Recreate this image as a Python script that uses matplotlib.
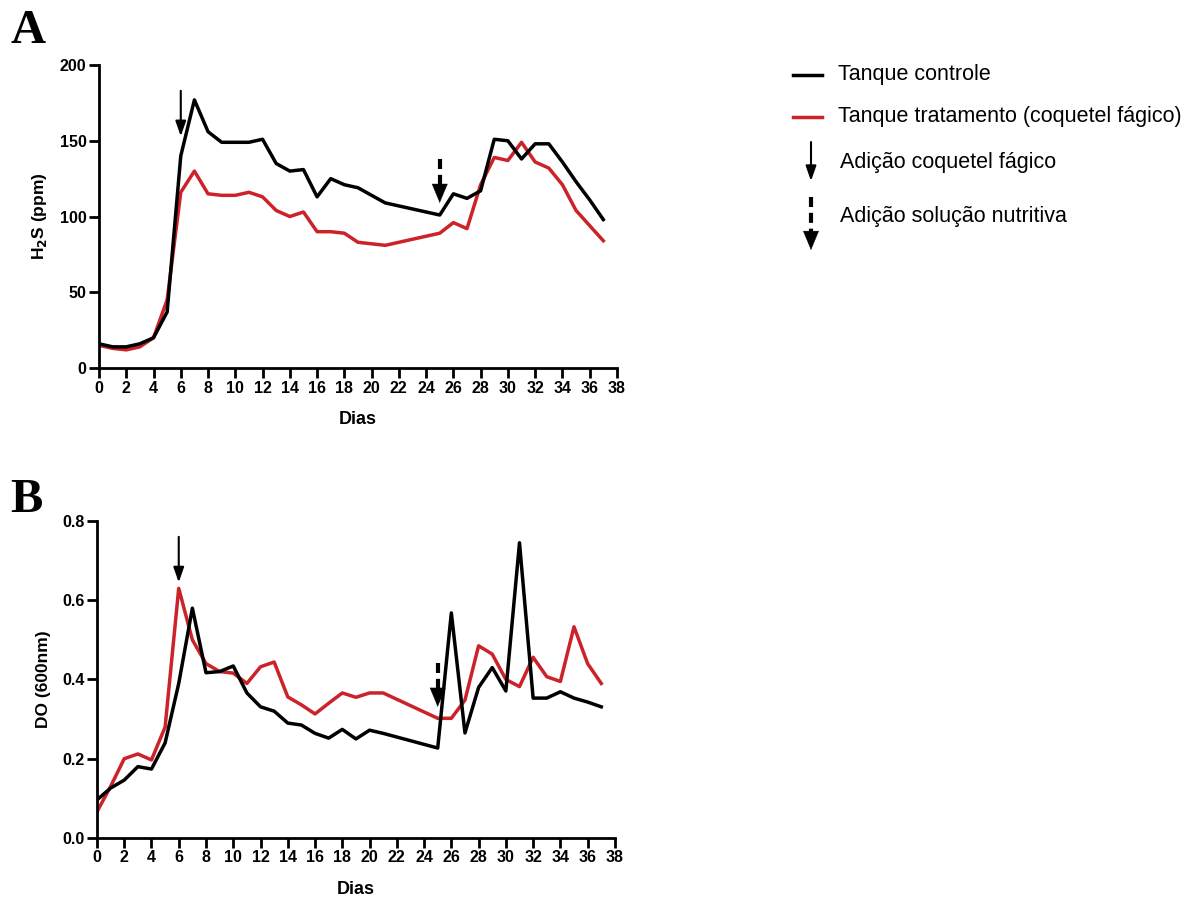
import matplotlib.pyplot as plt
import numpy as np

plt.rcParams['font.family'] = ['Liberation Sans', 'DejaVu Sans']

# days sampled (no readings on days 22-24)
dias = [0, 1, 2, 3, 4, 5, 6, 7, 8, 9, 10, 11, 12, 13, 14, 15, 16, 17, 18, 19, 20, 21,
        25, 26, 27, 28, 29, 30, 31, 32, 33, 34, 35, 36, 37]

# panel A: H2S (ppm)
h2s_controle = [16, 14, 14, 16, 20, 37, 140, 177, 156, 149, 149, 149, 151, 135, 130, 131,
                113, 125, 121, 119, 114, 109,
                101, 115, 112, 117, 151, 150, 138, 148, 148, 136, 123, 111, 98]
h2s_tratamento = [15, 13, 12, 14, 20, 45, 116, 130, 115, 114, 114, 116, 113, 104, 100, 103,
                  90, 90, 89, 83, 82, 81,
                  89, 96, 92, 121, 139, 137, 149, 136, 132, 121, 104, 94, 84]

# panel B: DO (600nm)
do_controle = [0.096, 0.126, 0.146, 0.180, 0.174, 0.240, 0.390, 0.580, 0.417, 0.420, 0.434,
               0.366, 0.331, 0.320, 0.290, 0.285, 0.264, 0.252, 0.274, 0.250, 0.272, 0.264,
               0.227, 0.568, 0.265, 0.380, 0.430, 0.371, 0.745, 0.353, 0.353, 0.369, 0.353,
               0.343, 0.331]
do_tratamento = [0.066, 0.130, 0.200, 0.212, 0.197, 0.280, 0.630, 0.500, 0.440, 0.420, 0.416,
                 0.390, 0.432, 0.444, 0.356, 0.336, 0.313, 0.340, 0.366, 0.355, 0.366, 0.366,
                 0.302, 0.302, 0.348, 0.485, 0.464, 0.400, 0.382, 0.456, 0.407, 0.395, 0.533,
                 0.440, 0.390]

dia_fago = 6
dia_nutriente = 25

vermelho = '#cc2229'

fig = plt.figure(figsize=(11.97, 8.97), dpi=100)
axA = fig.add_axes([0.0827, 0.5897, 0.4327, 0.3378])
axB = fig.add_axes([0.0810, 0.0658, 0.4327, 0.3534])


def style_axis(ax, ylim, yticks, ylabel):
    ax.set_xlim(0, 38)
    ax.set_ylim(*ylim)
    ax.set_xticks(range(0, 39, 2))
    ax.set_yticks(yticks)
    ax.spines['top'].set_visible(False)
    ax.spines['right'].set_visible(False)
    for s in ('left', 'bottom'):
        ax.spines[s].set_linewidth(2)
    ax.tick_params(width=2, length=7, labelsize=11.5, pad=2)
    ax.set_xlabel('Dias', fontsize=13, fontweight='bold', labelpad=11)
    ax.set_ylabel(ylabel, fontsize=12.5, fontweight='bold', labelpad=8)


def bold_ticks(ax):
    for lab in ax.get_xticklabels() + ax.get_yticklabels():
        lab.set_fontweight('bold')


def seta_solida(ax, x, y0, y1):
    ax.annotate('', xy=(x, y1), xytext=(x, y0),
                arrowprops=dict(arrowstyle='-|>,head_length=1.0,head_width=0.35',
                                color='black', lw=1.5,
                                mutation_scale=9, shrinkA=0, shrinkB=0))


def seta_tracejada(ax, x, y0, ymeio, y1):
    # dashed shaft, then a solid filled head
    ax.plot([x, x], [y0, ymeio], color='black', lw=3, linestyle=(0, (2.4, 1.4)),
            dash_capstyle='butt')
    ax.annotate('', xy=(x, y1), xytext=(x, ymeio),
                arrowprops=dict(arrowstyle='-|>,head_length=1.2,head_width=0.5',
                                color='black', lw=0.3,
                                mutation_scale=11, shrinkA=0, shrinkB=0))


# panel A
axA.plot(dias, h2s_controle, color='black', lw=2.5, zorder=3)
axA.plot(dias, h2s_tratamento, color=vermelho, lw=2.5, zorder=2)
style_axis(axA, (0, 200), [0, 50, 100, 150, 200], 'H$_\\mathbf{2}$S (ppm)')
bold_ticks(axA)
seta_solida(axA, dia_fago, 183, 153)
seta_tracejada(axA, dia_nutriente, 138, 118, 109)

# panel B
axB.plot(dias, do_controle, color='black', lw=2.5, zorder=3)
axB.plot(dias, do_tratamento, color=vermelho, lw=2.5, zorder=2)
style_axis(axB, (0, 0.8), [0.0, 0.2, 0.4, 0.6, 0.8], 'DO (600nm)')
axB.yaxis.set_major_formatter(plt.FormatStrFormatter('%.1f'))
bold_ticks(axB)
seta_solida(axB, dia_fago, 0.76, 0.645)
seta_tracejada(axB, dia_nutriente, 0.442, 0.366, 0.331)

# panel letters
fig.text(0.0084, 1 - 43 / 897, 'A', family='Liberation Serif', fontweight='bold',
         fontsize=35, va='baseline')
fig.text(0.0084, 1 - 512 / 897, 'B', family='Liberation Serif', fontweight='bold',
         fontsize=35, va='baseline')

# legend drawn in a blank axes, in pixel units of the figure
leg = fig.add_axes([0.62, 0.70, 0.38, 0.26])
leg.set_xlim(0.62 * 1197, 1197)
leg.set_ylim(897 * 0.30, 897 * 0.04)
leg.axis('off')
leg.plot([793, 822], [75, 75], color='black', lw=2.5)
leg.plot([793, 822], [117, 117], color=vermelho, lw=2.5)
leg.text(838, 75, 'Tanque controle', fontsize=15.5, va='center')
leg.text(838, 117, 'Tanque tratamento (coquetel fágico)', fontsize=15.5, va='center')
leg.text(840, 163, 'Adição coquetel fágico', fontsize=15.5, va='center')
leg.text(840, 217, 'Adição solução nutritiva', fontsize=15.5, va='center')
seta_solida(leg, 811, 142, 181)
seta_tracejada(leg, 811, 197, 235, 250)

fig.savefig('out.png', dpi=100, facecolor='white')
